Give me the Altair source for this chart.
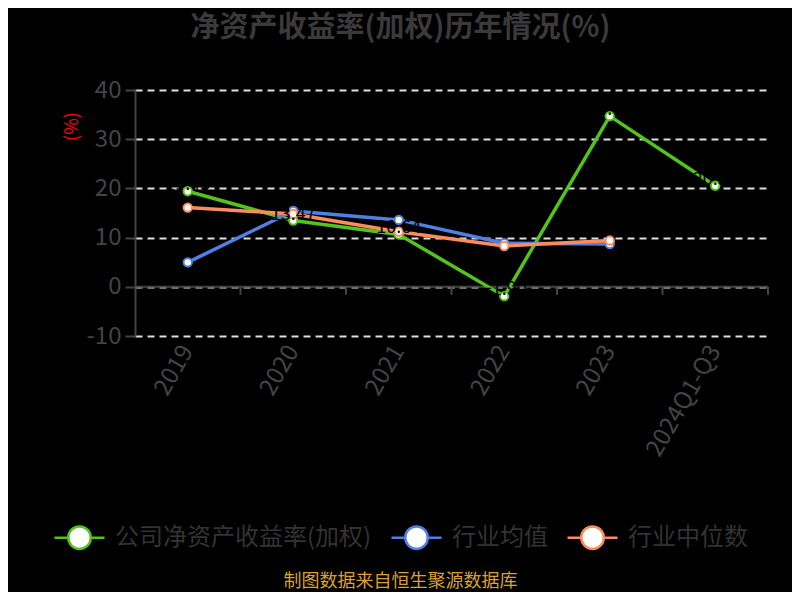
import altair as alt
import pandas as pd

categories = ["2019", "2020", "2021", "2022", "2023", "2024Q1-Q3"]
company_roe = [19.43, 13.47, 10.64, -1.90, 34.69, 20.55]
industry_mean = [4.97, 15.40, 13.60, 8.85, 8.70]
industry_median = [16.10, 14.80, 11.20, 8.30, 9.40]
series_names = ["公司净资产收益率(加权)", "行业均值", "行业中位数"]
series_colors = ["#52c41a", "#4e80e6", "#fc8c5c"]
y_ticks = [-10, 0, 10, 20, 30, 40]

rows = []
for name, values in zip(series_names, [company_roe, industry_mean, industry_median]):
    for cat, v in zip(categories, values):
        rows.append({"year": cat, "series": name, "value": v})
df = pd.DataFrame(rows)
cat_df = pd.DataFrame({"year": categories, "z": [0] * len(categories)})
zero_df = pd.DataFrame({"z": [0]})

FONT = "Noto Sans CJK SC"
GRAY = "#444444"

x_scale = alt.Scale(type="band", domain=categories, paddingInner=0, paddingOuter=0)
x_enc = alt.X(
    "year:N", sort=categories, scale=x_scale,
    axis=alt.Axis(
        title="制图数据来自恒生聚源数据库", titleColor="#daa032", titleFontSize=18,
        titleFontWeight="normal", titleFont=FONT, titleX=265, titleY=245,
        titleAlign="center", titleBaseline="middle", titleAngle=0,
        labelAngle=-60, labelAlign="right", labelBaseline="middle",
        labelPadding=11, labelFontSize=24, labelColor=GRAY, labelFont=FONT,
        domain=False, ticks=False, tickSize=0, grid=False, labelOverlap=False,
    ),
)
y_enc = alt.Y(
    "value:Q", scale=alt.Scale(domain=[-10, 40], nice=False, zero=False),
    axis=alt.Axis(
        values=y_ticks, title="(%)", titleColor="red", titleFontSize=18,
        titleFont=FONT, titleFontWeight="normal", titleX=-63, titleY=36, titleAlign="center",
        titleBaseline="middle", titleAngle=270,
        labelExpr="'' + datum.value",
        labelFontSize=24, labelColor=GRAY, labelFont=FONT, labelPadding=4,
        tickSize=10, tickColor=GRAY, tickWidth=2,
        domainColor=GRAY, domainWidth=2,
        grid=True, gridColor="#dddddd", gridDash=[7, 5], gridWidth=2,
    ),
)
stroke_enc = alt.Stroke(
    "series:N", scale=alt.Scale(domain=series_names, range=series_colors),
    legend=alt.Legend(
        title=None, orient="none", direction="horizontal", legendX=-82, legendY=421,
        symbolType="M-1,0H-0.47M0.47,0H1M-0.45,0A0.45,0.45,0,1,1,0.45,0A0.45,0.45,0,1,1,-0.45,0Z",
        symbolSize=2500, symbolStrokeWidth=2.5, symbolFillColor="white",
        labelFontSize=24, labelColor="#333333", labelFont=FONT, labelLimit=0,
        labelOffset=9, columnPadding=14,
    ),
)

zero_rule = alt.Chart(zero_df).mark_rule(color=GRAY, strokeWidth=2).encode(
    y=alt.Y("z:Q")
)
tick_rules = alt.Chart(cat_df).mark_rule(color=GRAY, strokeWidth=2, y2Offset=8).encode(
    x=alt.X("year:N", sort=categories, bandPosition=1),
    y=alt.Y("z:Q"),
    y2="z",
)

layers = [zero_rule, tick_rules]
for name in series_names:
    base = alt.Chart(df).transform_filter(alt.datum.series == name)
    layers.append(base.mark_line(strokeWidth=3.5).encode(x=x_enc, y=y_enc, stroke=stroke_enc))
    layers.append(
        base.mark_point(filled=False, fill="white", size=70, strokeWidth=2, opacity=1).encode(
            x=x_enc, y=y_enc, stroke=stroke_enc
        )
    )

labels = (
    alt.Chart(df)
    .transform_filter(alt.datum.series == series_names[0])
    .mark_text(color="black", fontSize=18, dy=-6, font=FONT)
    .encode(x=x_enc, y=y_enc, text=alt.Text("value:Q", format=".2f"))
)
layers.append(labels)

chart = (
    alt.layer(*layers)
    .properties(
        width=633,
        height=246,
        title=alt.TitleParams(
            "净资产收益率(加权)历年情况(%)", fontSize=29, fontWeight="bold", color="#3a3a3a",
            font=FONT, anchor="middle", frame="group", dx=-51, offset=6, baseline="bottom",
        ),
        autosize=alt.AutoSizeParams(type="none"),
        padding={"left": 127, "top": 82, "right": 24, "bottom": 256},
    )
    .configure(background="black")
    .configure_view(stroke=None)
)

chart.save("out.html", embed_options={"renderer": "svg", "actions": False})
